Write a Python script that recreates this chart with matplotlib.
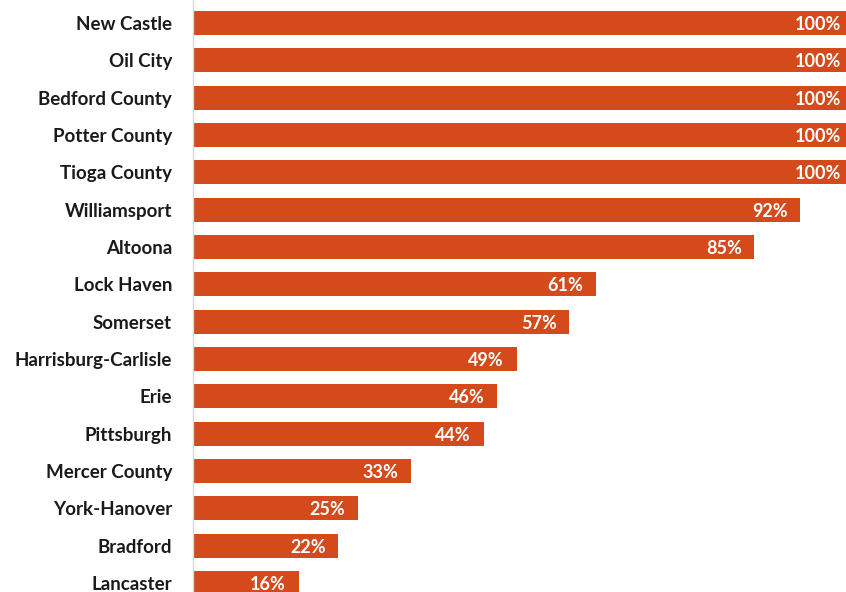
import matplotlib.pyplot as plt

regions = ['New Castle', 'Oil City', 'Bedford County', 'Potter County', 'Tioga County',
           'Williamsport', 'Altoona', 'Lock Haven', 'Somerset', 'Harrisburg-Carlisle',
           'Erie', 'Pittsburgh', 'Mercer County', 'York-Hanover', 'Bradford', 'Lancaster']
pct = [100, 100, 100, 100, 100, 92, 85, 61, 57, 49, 46, 44, 33, 25, 22, 16]

plt.rcParams['font.family'] = ['Lato', 'DejaVu Sans']

fig = plt.figure(figsize=(8.46, 5.92), dpi=100)
ax = fig.add_axes([193 / 846, 0, 1 - 193 / 846, 1])

ypos = list(range(len(regions)))
bars = ax.barh(ypos, pct, height=0.64, color='#D44A1A')

for y, v in zip(ypos, pct):
    ax.annotate(f'{v}%', xy=(v, y), xytext=(-9, 0), textcoords='offset points',
                ha='right', va='center_baseline', color='white', fontsize=13,
                fontweight='bold', annotation_clip=False)

ax.set_xlim(0, 98.9)
ax.set_ylim(15.24, -0.616)
ax.set_yticks(ypos)
ax.set_yticklabels(regions, fontsize=13.5, fontweight='bold', color='#1a1a1a',
                   va='center_baseline')
ax.tick_params(axis='y', length=0, pad=15)
ax.set_xticks([])
for side in ['top', 'right', 'bottom']:
    ax.spines[side].set_visible(False)
ax.spines['left'].set_color('#D9D9D9')
ax.spines['left'].set_linewidth(1)

fig.savefig('out.png', dpi=100)
